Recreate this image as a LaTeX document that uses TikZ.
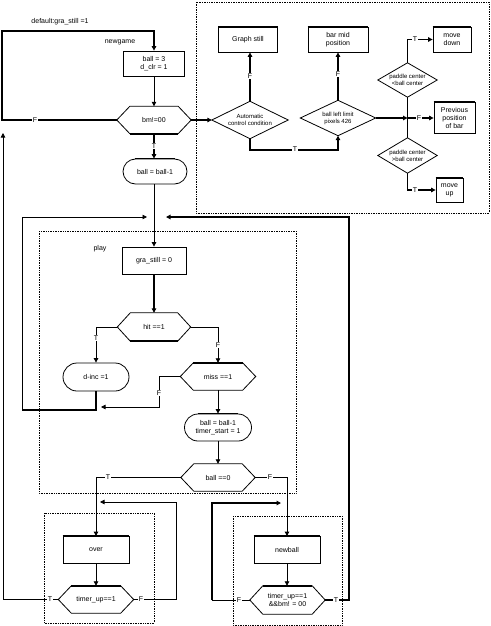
\documentclass[tikz,border=0pt]{standalone}
\usepackage{fontspec}
\setmainfont{Liberation Sans}
\usetikzlibrary{arrows.meta,shapes.misc,calc}
\newcommand\hexdraw[1]{\draw[line width=0.8pt] (#1.west) -- ([xshift=13pt]#1.north west) -- ([xshift=-13pt]#1.north east) -- (#1.east) -- ([xshift=-13pt]#1.south east) -- ([xshift=13pt]#1.south west) -- cycle;}
\newcommand\hextop[1]{\draw[line width=1.6pt] ([xshift=13pt]#1.north west) -- ([xshift=-13pt]#1.north east);}
\newcommand\hexbot[1]{\draw[line width=1.6pt] ([xshift=13pt]#1.south west) -- ([xshift=-13pt]#1.south east);}
\newcommand\dmdraw[1]{\draw[line width=0.8pt] (#1.west) -- (#1.north) -- (#1.east) -- (#1.south) -- cycle;}
\newcommand\boxtop[1]{\draw[line width=1.6pt] (#1.north west) -- (#1.north east);}
\begin{document}
\begin{tikzpicture}[x=1pt,y=-1pt,
  font=\fontsize{7}{8}\selectfont,
  thinln/.style={line width=0.8pt},
  thk/.style={line width=1.6pt},
  arr/.style={-{Triangle[length=4.5pt,width=4.5pt]}},
  bx/.style={draw,line width=0.8pt,rectangle,inner sep=0pt,align=center},
  hx/.style={rectangle,inner sep=0pt,align=center},
  rr/.style={draw,line width=0.8pt,rounded rectangle,inner sep=0pt,align=center},
  dm/.style={rectangle,inner sep=0pt,align=center,font=\fontsize{6}{7}\selectfont},
  tf/.style={fill=white,inner sep=0.8pt},
  grp/.style={draw,densely dotted,line width=0.7pt}]
\useasboundingbox (0,0) rectangle (490,626);

% group frames
\draw[grp] (196,2) rectangle (489,213);
\draw[grp] (39,231) rectangle (296,493);
\draw[grp] (44,513) rectangle (154,623);
\draw[grp] (233,516) rectangle (342,625);

% free labels
\node (tdef) at (60,22) {default:gra\_still =1};
\node (tng) at (120,42) {newgame};
\node (tplay) at (100,249) {play};

% main column
\node[bx,minimum width=61,minimum height=25] (b3) at (154,63.5) {ball = 3\\d\_clr = 1};
\node[hx,minimum width=74,minimum height=27] (bm) at (154,120) {bm!=00};
\hexdraw{bm}\hexbot{bm}
\node[rr,minimum width=64,minimum height=25] (bb1) at (155,171.5) {ball = ball-1};
\draw[thk] ([xshift=-20pt]bb1.north) -- ([xshift=20pt]bb1.north);
\node[bx,minimum width=64,minimum height=27] (gs0) at (154,260.5) {gra\_still = 0};
\node[hx,minimum width=73,minimum height=28] (hit) at (154,327) {hit ==1};
\hexdraw{hit}\hexbot{hit}
\node[rr,minimum width=66,minimum height=28] (dinc) at (96,377) {d-inc =1};
\node[hx,minimum width=75,minimum height=27] (miss) at (218,376.5) {miss ==1};
\hexdraw{miss}\hextop{miss}
\node[rr,minimum width=67,minimum height=27] (bb2) at (218,427.5) {ball = ball-1\\timer\_start = 1};
\draw[thk] ([xshift=-20pt]bb2.north) -- ([xshift=20pt]bb2.north);
\node[hx,minimum width=74,minimum height=27] (b0) at (218,477.5) {ball ==0};
\hexdraw{b0}
\node[bx,minimum width=66,minimum height=27] (over) at (96,550) {over};
\boxtop{over}
\node[hx,minimum width=75,minimum height=27] (tu1) at (96,599.5) {timer\_up==1};
\hexdraw{tu1}\hextop{tu1}
\node[bx,minimum width=66,minimum height=27] (nb) at (287,550) {newball};
\boxtop{nb}
\node[hx,minimum width=75,minimum height=28] (tu2) at (287.5,600) {timer\_up==1\\\&\&bm! = 00};
\hexdraw{tu2}\hextop{tu2}

% top right block
\node[dm,minimum width=76,minimum height=37] (auto) at (250,120) {Automatic\\control condition};
\dmdraw{auto}
\node[bx,minimum width=59,minimum height=25] (gst) at (248,39.5) {Graph still};
\boxtop{gst}
\node[dm,minimum width=75,minimum height=35] (bll) at (338,118) {ball left limit\\pixels 426};
\dmdraw{bll}
\node[bx,minimum width=60,minimum height=25] (bmid) at (338,39.5) {bar mid\\position};
\boxtop{bmid}
\node[dm,minimum width=59,minimum height=34] (pd1) at (407.5,80) {paddle center\\<ball center};
\dmdraw{pd1}
\node[dm,minimum width=59,minimum height=35] (pd2) at (407.5,155.5) {paddle center\\>ball center};
\dmdraw{pd2}
\node[bx,minimum width=38,minimum height=25] (mdown) at (452,39.5) {move\\down};
\boxtop{mdown}
\node[bx,minimum width=41,minimum height=31] (prev) at (454.5,118) {Previous\\position\\of bar};
\boxtop{prev}
\node[bx,minimum width=27,minimum height=24] (mup) at (449.5,190) {move\\up};
\boxtop{mup}

% coordinates for free ends / bends
\coordinate (c1) at (2,31);
\coordinate (lpA) at (22,410);
\coordinate (lpB) at (147,217);
\coordinate (rpA) at (349,217);
\coordinate (rpB) at (166,217);
\coordinate (mfA) at (159,407);
\coordinate (mfB) at (101,407);
\coordinate (ou) at (3,133);
\coordinate (ofA) at (176,502);
\coordinate (ofB) at (100,502);
\coordinate (nfA) at (212,503);
\coordinate (nfB) at (281,503);
\coordinate (vj) at (407.5,118);

% connectors
\draw[thk,arr] (bm.west) -| (c1) -| (b3.north);
\node[tf] (lf1) at (35,120) {F};
\draw[thinln,arr] (b3.south) -- (bm.north);
\draw[thk,arr] (bm.south) -- (bm.south |- bb1.north);
\node[tf] (lt1) at (154,146) {T};
\draw[thk,arr] (bm.east) -- (auto.west);
\draw[thinln,arr] (bb1.south -| gs0.north) -- (gs0.north);

\draw[thk] (dinc.south) |- (lpA);
\draw[thinln,arr] (lpA) |- (lpB);
\draw[thk,arr] (tu2.east) -| (rpA) -- (rpB);
\node[tf] (lt7) at (336,600) {T};

\draw[thk,arr] (gs0.south) -- (hit.north);
\draw[thinln,arr] (hit.west) -| (dinc.north);
\node[tf] (lt2) at (96,338) {T};
\draw[thinln,arr] (hit.east) -| (miss.north);
\node[tf] (lf2) at (218,345) {F};
\draw[thinln,arr] (miss.west) -| (mfA) -- (mfB);
\node[tf] (lf3) at (159,393) {F};
\draw[thinln,arr] (miss.south) -- (bb2.north);
\draw[thinln,arr] (bb2.south) -- (b0.north);
\draw[thinln,arr] (b0.west) -| (over.north);
\node[tf] (lt3) at (108,477.5) {T};
\draw[thinln,arr] (b0.east) -| (nb.north);
\node[tf] (lf4) at (270,477.5) {F};
\draw[thinln,arr] (over.south) -- (tu1.north);
\draw[thinln,arr] (tu1.west) -| (ou);
\node[tf] (lt4) at (50,599.5) {T};
\draw[thinln,arr] (tu1.east) -| (ofA) -- (ofB);
\node[tf] (lf5) at (141,599.5) {F};
\draw[thinln,arr] (nb.south) -- (nb.south |- tu2.north);
\draw[thinln] (tu2.west) -- (tu2.west -| nfA);
\draw[thk,arr] (tu2.west -| nfA) -- (nfA) -- (nfB);
\node[tf] (lf6) at (239,600) {F};

\draw[thk,arr] (auto.north) -- (auto.north |- gst.south);
\node[tf] (lf7) at (250,76) {F};
\draw[thk,arr] (auto.south) -- ++(0,11) -| (bll.south);
\node[tf] (lt5) at (295,149.5) {T};
\draw[thk,arr] (bll.north) -- (bll.north |- bmid.south);
\node[tf] (lf8) at (338,74) {F};
\draw[thk,arr] (bll.east) -- (vj);
\draw[thinln] (pd1.south) -- (pd2.north);
\draw[thk,arr] (vj) -- (prev.west);
\node[tf] (lf9) at (419,118) {F};
\draw[thinln] (pd1.north) |- (410,39.5);
\draw[thk,arr] (pd1.north |- mdown.west) -- (mdown.west);
\node[tf] (lt6) at (415,39.5) {T};
\draw[thinln] (pd2.south) |- (410,190);
\draw[thk,arr] (pd2.south |- mup.west) -- (mup.west);
\node[tf] (lt8) at (415,190) {T};
\end{tikzpicture}
\end{document}
